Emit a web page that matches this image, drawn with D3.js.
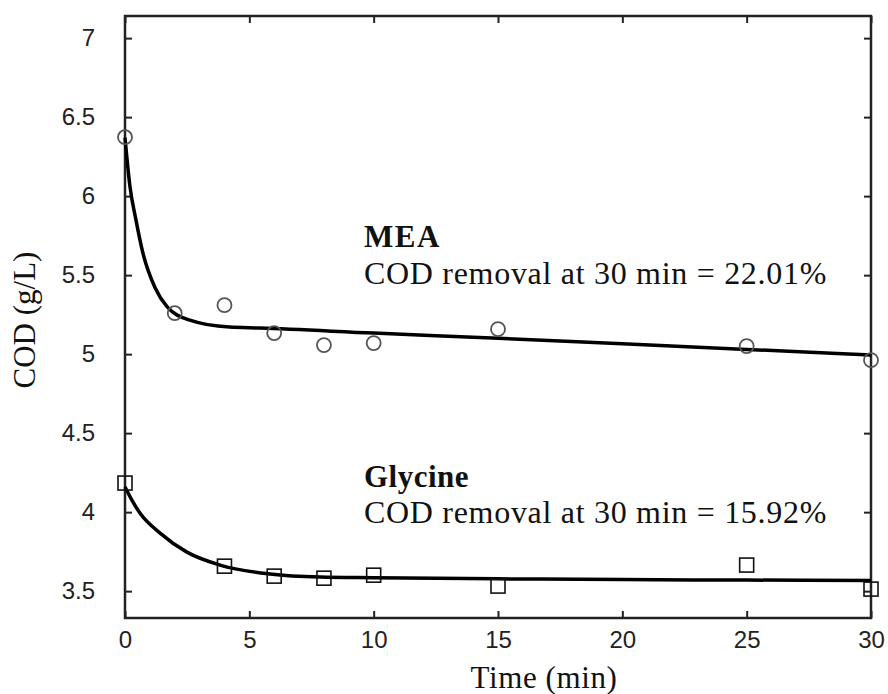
<!DOCTYPE html>
<html>
<head>
<meta charset="utf-8">
<script src="https://cdn.jsdelivr.net/npm/d3@7/dist/d3.min.js"></script>
<style>
  html, body { margin: 0; padding: 0; background: #fff; }
  svg { display: block; }
</style>
</head>
<body>
<svg id="chart" width="888" height="694"></svg>
<script>
// ---- data ----
const meaTime = [0, 2, 4, 6, 8, 10, 15, 25, 30];
const meaCOD  = [6.373, 5.259, 5.310, 5.133, 5.057, 5.070, 5.158, 5.051, 4.962];

const glyTime = [0, 4, 6, 8, 10, 15, 25, 30];
const glyCOD  = [4.184, 3.658, 3.595, 3.582, 3.601, 3.532, 3.665, 3.513];

// fitted curves
const meaFitTime = [0, 0.2, 0.44, 0.72, 1.21, 1.69, 2.61, 4.2, 5.42, 10, 15, 20, 25, 30];
const meaFitCOD  = [6.37, 6.06, 5.85, 5.64, 5.42, 5.30, 5.215, 5.171, 5.165, 5.133, 5.10, 5.065, 5.03, 4.994];

const glyFitTime = [0, 0.3, 0.6, 1.41, 2.49, 3.82, 5.83, 7.84, 10, 15, 20, 25, 30];
const glyFitCOD  = [4.16, 4.07, 3.994, 3.867, 3.747, 3.665, 3.608, 3.589, 3.585, 3.578, 3.573, 3.570, 3.568];

const xTicks = [0, 5, 10, 15, 20, 25, 30];
const yTicks = [3.5, 4, 4.5, 5, 5.5, 6, 6.5, 7];

const xTitle = "Time (min)";
const yTitle = "COD (g/L)";
const meaLabel = "MEA";
const meaNote = "COD removal at 30 min = 22.01%";
const glyLabel = "Glycine";
const glyNote = "COD removal at 30 min = 15.92%";

// ---- layout ----
const L = 125, R = 871, T = 16, B = 618;
const svg = d3.select("#chart");

const x = d3.scaleLinear().domain([0, 30]).range([L, R]);
const y = d3.scaleLinear().domain([3.33, 7.14]).range([B, T]);

const tickFont = "'Liberation Sans', Arial, sans-serif";
const serif = "'Liberation Serif', 'Times New Roman', serif";

function styleAxis(g) {
  g.select(".domain").remove();
  g.selectAll(".tick line").attr("stroke", "#222").attr("stroke-width", 2);
  g.selectAll(".tick text").attr("fill", "#222").style("font-family", tickFont).style("font-size", "24px");
}

svg.append("g").attr("transform", `translate(0,${B})`)
  .call(d3.axisBottom(x).tickValues(xTicks).tickSize(-7).tickPadding(13).tickFormat(d3.format("d")))
  .call(styleAxis);
svg.append("g").attr("transform", `translate(0,${T})`)
  .call(d3.axisTop(x).tickValues(xTicks).tickSize(-7).tickFormat(""))
  .call(styleAxis);
svg.append("g").attr("transform", `translate(${L},0)`)
  .call(d3.axisLeft(y).tickValues(yTicks).tickSize(-7).tickPadding(30).tickFormat(d => d3.format("")(d)))
  .call(styleAxis);
svg.append("g").attr("transform", `translate(${R},0)`)
  .call(d3.axisRight(y).tickValues(yTicks).tickSize(-7).tickFormat(""))
  .call(styleAxis);

// frame
svg.append("rect")
  .attr("x", L).attr("y", T).attr("width", R - L).attr("height", B - T)
  .attr("fill", "none").attr("stroke", "#222").attr("stroke-width", 2.5);

// fitted lines
const line = d3.line().x(d => x(d[0])).y(d => y(d[1])).curve(d3.curveMonotoneX);
svg.append("path")
  .datum(d3.zip(meaFitTime, meaFitCOD))
  .attr("d", line).attr("fill", "none").attr("stroke", "#000").attr("stroke-width", 3.5);
svg.append("path")
  .datum(d3.zip(glyFitTime, glyFitCOD))
  .attr("d", line).attr("fill", "none").attr("stroke", "#000").attr("stroke-width", 3.5);

// markers
svg.append("g").selectAll("circle")
  .data(d3.zip(meaTime, meaCOD)).join("circle")
  .attr("cx", d => x(d[0])).attr("cy", d => y(d[1])).attr("r", 7)
  .attr("fill", "none").attr("stroke", "#555").attr("stroke-width", 1.8);

const s = 14;
svg.append("g").selectAll("rect")
  .data(d3.zip(glyTime, glyCOD)).join("rect")
  .attr("x", d => x(d[0]) - s / 2).attr("y", d => y(d[1]) - s / 2)
  .attr("width", s).attr("height", s)
  .attr("fill", "none").attr("stroke", "#111").attr("stroke-width", 1.6);

// annotations
function txt(str, px, py, opts = {}) {
  return svg.append("text").attr("x", px).attr("y", py)
    .style("font-family", serif).style("font-size", (opts.size || 31) + "px")
    .style("font-weight", opts.bold ? "bold" : "normal")
    .style("letter-spacing", (opts.ls || 0) + "px")
    .attr("fill", "#111").text(str);
}
txt(meaLabel, 364, 247, { bold: true, size: 31, ls: 1.5 });
txt(meaNote, 364, 284, { size: 32, ls: 0.7 });
txt(glyLabel, 364, 487, { bold: true, size: 31, ls: 0.5 });
txt(glyNote, 364, 523, { size: 32, ls: 0.7 });

// axis titles
txt(xTitle, 544, 688, { size: 31, ls: 0.6 }).attr("text-anchor", "middle");
svg.append("text")
  .attr("transform", `translate(35,320) rotate(-90)`)
  .attr("text-anchor", "middle")
  .style("font-family", serif).style("font-size", "31px")
  .attr("fill", "#111").text(yTitle);
</script>
</body>
</html>
